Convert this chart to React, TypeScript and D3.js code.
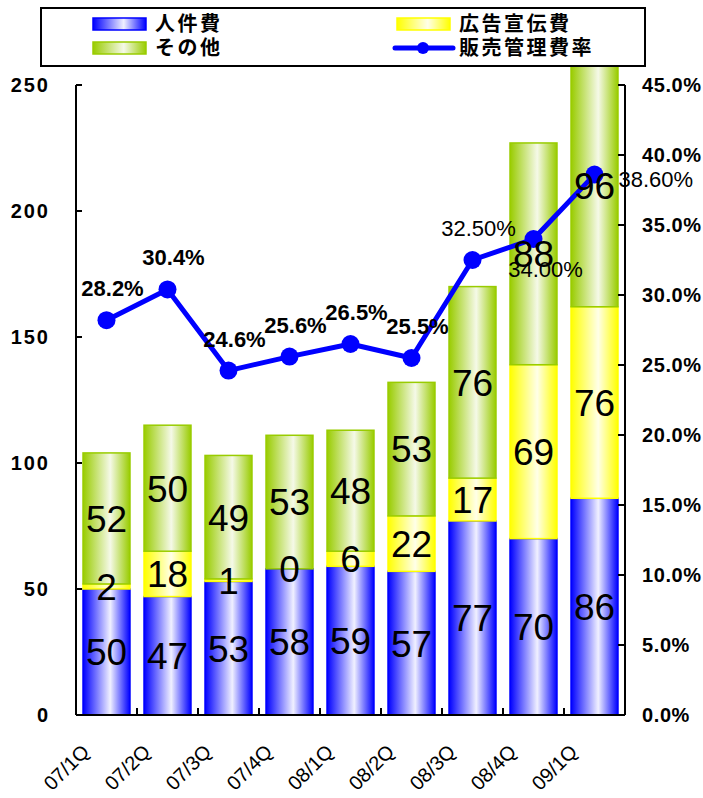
import React, { useEffect, useRef } from "react";
import * as d3 from "d3";

// quarters and values
const quarters = ["07/1Q", "07/2Q", "07/3Q", "07/4Q", "08/1Q", "08/2Q", "08/3Q", "08/4Q", "09/1Q"];
const personnel = [50, 47, 53, 58, 59, 57, 77, 70, 86];
const advertising = [2, 18, 1, 0, 6, 22, 17, 69, 76];
const other = [52, 50, 49, 53, 48, 53, 76, 88, 96];
const sgaRatio = [28.2, 30.4, 24.6, 25.6, 26.5, 25.5, 32.5, 34.0, 38.6];
const ratioLabels = ["28.2%", "30.4%", "24.6%", "25.6%", "26.5%", "25.5%", "32.50%", "34.00%", "38.60%"];
const ratioLabelPlace = ["above", "above", "above", "above", "above", "above", "above", "below", "right"];
const leftTicks = [0, 50, 100, 150, 200, 250];
const rightTicks = [0, 5, 10, 15, 20, 25, 30, 35, 40, 45];
const seriesNames = ["人件費", "広告宣伝費", "その他", "販売管理費率"];

const W = 703;
const H = 798;
const LATIN = "'Liberation Sans', Arial, sans-serif";
const CJK = "'Noto Sans CJK JP', sans-serif";

const barStyles = [
  { id: "gBlue", edge: "#0000ff", light: "#f0f0ff" },
  { id: "gYellow", edge: "#ffff00", light: "#ffffe8" },
  { id: "gGreen", edge: "#99cc00", light: "#f5f9e8" },
];

function Chart() {
  const ref = useRef<SVGSVGElement | null>(null);

  useEffect(() => {
    const svg = d3.select(ref.current);
    svg.selectAll("*").remove();

    const margin = { top: 85, right: 78, bottom: 83, left: 76 };
    const x = d3.scaleBand<string>()
      .domain(quarters)
      .range([margin.left, W - margin.right])
      .paddingInner(0.23)
      .paddingOuter(0.115);
    const y = d3.scaleLinear().domain([0, 250]).range([H - margin.bottom, margin.top]);
    const y2 = d3.scaleLinear().domain([0, 45]).range([H - margin.bottom, margin.top]);

    const defs = svg.append("defs");
    barStyles.forEach(s => {
      const g = defs.append("linearGradient").attr("id", s.id)
        .attr("x1", "0").attr("x2", "1").attr("y1", "0").attr("y2", "0");
      g.append("stop").attr("offset", "0").attr("stop-color", s.edge);
      g.append("stop").attr("offset", "0.58").attr("stop-color", s.light);
      g.append("stop").attr("offset", "1").attr("stop-color", s.edge);
    });

    // stacked bars
    const rows = quarters.map((q, i) => ({ q, a: personnel[i], b: advertising[i], c: other[i] }));
    const stack = d3.stack<any>().keys(["a", "b", "c"])(rows);

    stack.forEach((layer, li) => {
      const st = barStyles[li];
      svg.append("g").selectAll("rect")
        .data(layer)
        .enter()
        .append("rect")
        .attr("x", d => x(d.data.q)!)
        .attr("y", d => y(d[1]))
        .attr("width", x.bandwidth())
        .attr("height", d => y(d[0]) - y(d[1]))
        .attr("fill", `url(#${st.id})`)
        .attr("stroke", st.edge)
        .attr("stroke-width", 1.5);
    });

    // axes
    const x0 = margin.left, x1 = W - margin.right, yb = H - margin.bottom;
    const axis = svg.append("g").attr("stroke", "#000").attr("stroke-width", 2);
    axis.append("line").attr("x1", x0).attr("x2", x0).attr("y1", margin.top).attr("y2", yb);
    axis.append("line").attr("x1", x1).attr("x2", x1).attr("y1", margin.top).attr("y2", yb);
    axis.append("line").attr("x1", x0).attr("x2", x1).attr("y1", yb).attr("y2", yb);
    axis.selectAll(".lt").data(leftTicks).enter().append("line")
      .attr("x1", x0).attr("x2", x0 + 6).attr("y1", d => y(d)).attr("y2", d => y(d));
    axis.selectAll(".rt").data(rightTicks).enter().append("line")
      .attr("x1", x1 - 7).attr("x2", x1).attr("y1", d => y2(d)).attr("y2", d => y2(d));
    axis.selectAll(".xt").data(quarters.slice(1)).enter().append("line")
      .attr("x1", d => x(d)! - x.step() * x.paddingInner() / 2)
      .attr("x2", d => x(d)! - x.step() * x.paddingInner() / 2)
      .attr("y1", yb).attr("y2", yb - 7);

    svg.append("g").selectAll("text").data(leftTicks).enter().append("text")
      .attr("x", 50).attr("y", d => y(d)).attr("dy", "0.36em")
      .attr("text-anchor", "end")
      .attr("font-family", LATIN).attr("font-weight", "bold").attr("font-size", 20)
      .attr("letter-spacing", 2)
      .text(d => d);

    svg.append("g").selectAll("text").data(rightTicks).enter().append("text")
      .attr("x", 642).attr("y", d => y2(d)).attr("dy", "0.36em")
      .attr("font-family", LATIN).attr("font-weight", "bold").attr("font-size", 20)
      .attr("letter-spacing", 0.6)
      .text(d => d.toFixed(1) + "%");

    svg.append("g").selectAll("text").data(quarters).enter().append("text")
      .attr("transform", d => `translate(${x(d)! + x.bandwidth() / 2 - 16},${yb + 38}) rotate(-45)`)
      .attr("text-anchor", "end")
      .attr("font-family", LATIN).attr("font-size", 20)
      .text(d => d);

    // ratio line
    const pts = quarters.map((q, i) => [x(q)! + x.bandwidth() / 2, y2(sgaRatio[i])] as [number, number]);
    svg.append("path")
      .attr("d", d3.line()(pts)!)
      .attr("fill", "none").attr("stroke", "#0000ff").attr("stroke-width", 5)
      .attr("stroke-linejoin", "round");
    svg.append("g").selectAll("circle").data(pts).enter().append("circle")
      .attr("cx", d => d[0]).attr("cy", d => d[1]).attr("r", 9).attr("fill", "#0000ff");

    // bar value labels
    stack.forEach(layer => {
      svg.append("g").selectAll("text").data(layer).enter().append("text")
        .attr("x", d => x(d.data.q)! + x.bandwidth() / 2)
        .attr("y", d => y((d[0] + d[1]) / 2))
        .attr("dy", "0.36em")
        .attr("text-anchor", "middle")
        .attr("font-family", LATIN).attr("font-size", 37)
        .text(d => d[1] - d[0]);
    });

    // ratio labels
    svg.append("g").selectAll("text").data(pts).enter().append("text")
      .attr("x", (d, i) => ratioLabelPlace[i] === "right" ? d[0] + 24 : ratioLabelPlace[i] === "below" ? d[0] + 12 : d[0] + 6)
      .attr("y", (d, i) => ratioLabelPlace[i] === "right" ? d[1] + 12 : ratioLabelPlace[i] === "below" ? d[1] + 38 : d[1] - 24)
      .attr("text-anchor", (d, i) => ratioLabelPlace[i] === "right" ? "start" : "middle")
      .attr("font-family", LATIN)
      .attr("font-weight", (d, i) => ratioLabels[i].length > 5 ? "normal" : "bold")
      .attr("font-size", 22)
      .text((d, i) => ratioLabels[i]);

    // legend
    const lg = svg.append("g");
    lg.append("rect").attr("x", 41).attr("y", 8).attr("width", 604).attr("height", 58)
      .attr("fill", "#fff").attr("stroke", "#000").attr("stroke-width", 2);
    const legendPos = [[93, 24], [397, 24], [93, 48], [397, 48]];
    const styleIdx = [0, 1, 2];
    styleIdx.forEach((si, k) => {
      const [lx, ly] = legendPos[k];
      lg.append("rect").attr("x", lx).attr("y", ly - 6).attr("width", 53).attr("height", 12)
        .attr("fill", `url(#${barStyles[si].id})`).attr("stroke", barStyles[si].edge).attr("stroke-width", 1.5);
    });
    const [px, py] = legendPos[3];
    lg.append("line").attr("x1", px - 2).attr("x2", px + 56).attr("y1", py).attr("y2", py)
      .attr("stroke", "#0000ff").attr("stroke-width", 5).attr("stroke-linecap", "round");
    lg.append("circle").attr("cx", px + 26).attr("cy", py).attr("r", 6).attr("fill", "#0000ff");
    lg.selectAll("text").data(seriesNames).enter().append("text")
      .attr("x", (d, i) => legendPos[i][0] + 62)
      .attr("y", (d, i) => legendPos[i][1])
      .attr("dy", "0.36em")
      .attr("font-family", CJK).attr("font-weight", "bold").attr("font-size", 20)
      .attr("letter-spacing", 2.5)
      .text(d => d);
  }, []);

  return <svg ref={ref} width={W} height={H} style={{ position: "absolute", left: 0, top: 0, background: "#fff" }} />;
}

export default function App() {
  return <Chart />;
}
